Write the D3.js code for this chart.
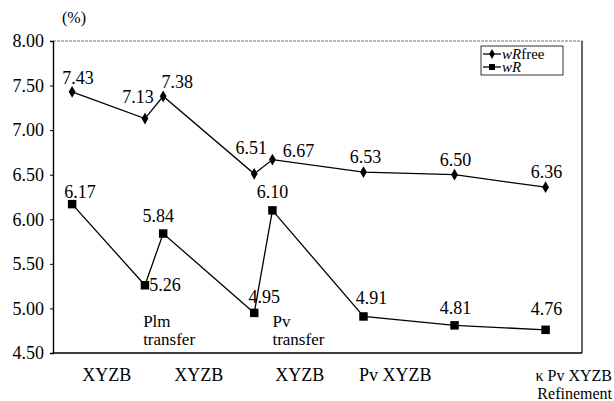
<!DOCTYPE html>
<html>
<head>
<meta charset="utf-8">
<script src="https://cdn.jsdelivr.net/npm/d3@7"></script>
<style>
  body { margin: 0; background: #fff; font-family: "Liberation Serif", serif; }
  svg { display: block; font-family: "Liberation Serif", serif; }
</style>
</head>
<body>
<svg id="chart" font-family="Liberation Serif"></svg>
<script>
// refinement steps (position along x, in steps)
const steps = [0, 0.8, 1, 2, 2.2, 3.2, 4.2, 5.2];
const wRfree = [7.43, 7.13, 7.38, 6.51, 6.67, 6.53, 6.50, 6.36];
const wR = [6.17, 5.26, 5.84, 4.95, 6.10, 4.91, 4.81, 4.76];
const yTicks = [4.5, 5.0, 5.5, 6.0, 6.5, 7.0, 7.5, 8.0];
const stepLabels = [
    {at: 0.38, lines: ["XYZB"]},
    {at: 1.39, lines: ["XYZB"]},
    {at: 2.5, lines: ["XYZB"]},
    {at: 3.55, lines: ["Pv XYZB"]}
];
const lastLabel = ["\u03ba Pv XYZB", "Refinement"];
const notes = [
    {at: 0.78, lines: ["Plm", "transfer"]},
    {at: 2.2, lines: ["Pv", "transfer"]}
];

const config = {
    width: 614,
    height: 401,
    margin: {top: 41, right: 32, bottom: 48, left: 53},
    fontSize: 17
};

// label offsets from each marker [dx, dy], hand placed like the original
const freeOffsets = [[6, -8], [-7, -16], [14, -8], [-3, -20], [26, -3], [2, -9], [1, -9], [1, -9]];
const rOffsets = [[8, -6], [20, 6], [-5, -12], [10, -10], [0, -12], [8, -12], [1, -11], [1, -15]];

const svg = d3.select("#chart")
    .attr("width", config.width)
    .attr("height", config.height);

const label = (sel, size) => sel
    .attr("font-size", size || config.fontSize)
    .attr("fill", "#000");

const x = d3.scaleLinear()
    .domain([-0.21, 5.6])
    .range([config.margin.left, config.width - config.margin.right]);

const y = d3.scaleLinear()
    .domain([4.5, 8.0])
    .range([config.height - config.margin.bottom, config.margin.top]);

const x0 = x.range()[0], x1 = x.range()[1];
const y0 = y.range()[0], y1 = y.range()[1];

// frame: top is faint in the scan
svg.append("line")
    .attr("x1", x0).attr("x2", x1).attr("y1", y1).attr("y2", y1)
    .attr("stroke", "#777").attr("stroke-width", 1).attr("stroke-dasharray", "3,1");
svg.append("line")
    .attr("x1", x1).attr("x2", x1).attr("y1", y1).attr("y2", y0)
    .attr("stroke", "#000").attr("stroke-width", 1.2);
svg.append("line")
    .attr("x1", x0).attr("x2", x1).attr("y1", y0).attr("y2", y0)
    .attr("stroke", "#000").attr("stroke-width", 1.4);

svg.append("g")
    .attr("transform", `translate(${x0},0)`)
    .call(d3.axisLeft(y)
        .tickValues(yTicks)
        .tickFormat(d3.format(".2f"))
        .tickSize(3)
        .tickPadding(6))
    .call(g => g.attr("font-family", null).attr("font-size", null))
    .call(g => g.select(".domain").attr("stroke-width", 1.4))
    .call(g => label(g.selectAll("text"), 18));

label(svg.append("text"), 16)
    .attr("x", x0 + 9).attr("y", 23)
    .text("(%)");

const line = d3.line()
    .x((d, i) => x(steps[i]))
    .y(d => y(d));

svg.append("path").datum(wRfree)
    .attr("d", line).attr("fill", "none").attr("stroke", "#000").attr("stroke-width", 1.3);
svg.append("path").datum(wR)
    .attr("d", line).attr("fill", "none").attr("stroke", "#000").attr("stroke-width", 1.3);

const diamond = d3.symbol().type(d3.symbolDiamond).size(40);
const square = d3.symbol().type(d3.symbolSquare).size(72);

svg.append("g").selectAll("path")
    .data(wRfree).join("path")
    .attr("d", diamond)
    .attr("transform", (d, i) => `translate(${x(steps[i])},${y(d)})`);
svg.append("g").selectAll("path")
    .data(wR).join("path")
    .attr("d", square)
    .attr("transform", (d, i) => `translate(${x(steps[i])},${y(d)})`);

label(svg.append("g").selectAll("text")
    .data(wRfree).join("text"), 18)
    .attr("text-anchor", "middle")
    .attr("x", (d, i) => x(steps[i]) + freeOffsets[i][0])
    .attr("y", (d, i) => y(d) + freeOffsets[i][1])
    .text(d => d3.format(".2f")(d));
label(svg.append("g").selectAll("text")
    .data(wR).join("text"), 18)
    .attr("text-anchor", "middle")
    .attr("x", (d, i) => x(steps[i]) + rOffsets[i][0])
    .attr("y", (d, i) => y(d) + rOffsets[i][1])
    .text(d => d3.format(".2f")(d));

// annotations inside the plot
notes.forEach(n => {
    const t = label(svg.append("text")).attr("x", x(n.at)).attr("y", y(5.0) + 19);
    n.lines.forEach((s, k) => t.append("tspan").attr("x", x(n.at)).attr("dy", k ? 18 : 0).text(s));
});

// step labels under the axis
stepLabels.forEach(l => {
    label(svg.append("text"), 18).attr("text-anchor", "middle")
        .attr("x", x(l.at)).attr("y", y0 + 28).text(l.lines[0]);
});
const last = label(svg.append("text"), 16).attr("text-anchor", "end").attr("y", y0 + 28);
lastLabel.forEach((s, k) => last.append("tspan").attr("x", config.width - 2).attr("dy", k ? 18 : 0).text(s));

// legend
const legend = svg.append("g").attr("transform", `translate(481,46)`);
legend.append("rect")
    .attr("width", 82).attr("height", 29)
    .attr("fill", "#fff").attr("stroke", "#000").attr("stroke-width", 0.8);
[["wR", "free"], ["wR", ""]].forEach((e, k) => {
    const ly = 8 + k * 13;
    legend.append("line").attr("x1", 2).attr("x2", 20).attr("y1", ly).attr("y2", ly)
        .attr("stroke", "#000").attr("stroke-width", 1.3);
    legend.append("path").attr("d", k ? d3.symbol().type(d3.symbolSquare).size(36)() : d3.symbol().type(d3.symbolDiamond).size(28)())
        .attr("transform", `translate(11,${ly})`);
    const t = label(legend.append("text"), 15).attr("x", 21).attr("y", ly + 5);
    t.append("tspan").attr("font-style", "italic").text(e[0]);
    t.append("tspan").text(e[1]);
});
</script>
</body>
</html>
